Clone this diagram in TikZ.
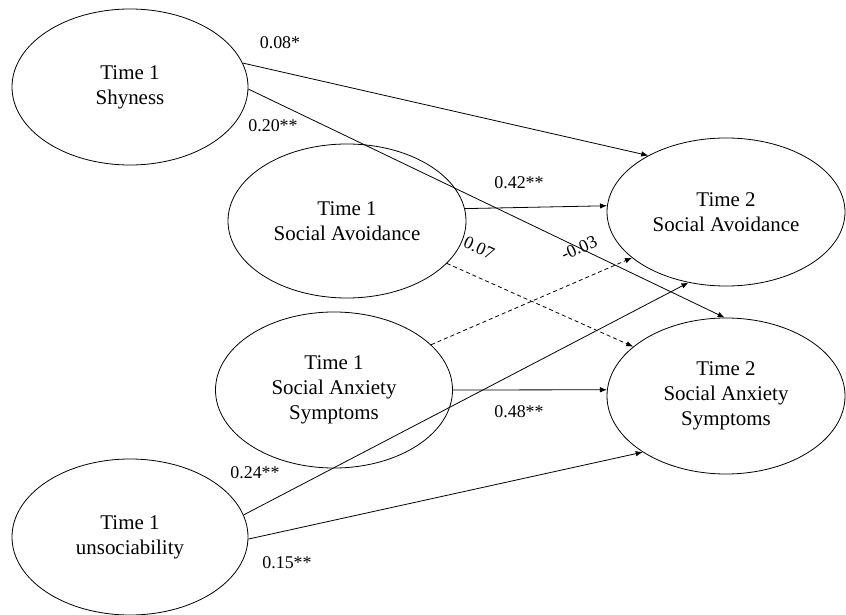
\documentclass[tikz,border=0pt]{standalone}
\usepackage{fontspec}
\setmainfont{Liberation Serif}
\usetikzlibrary{shapes.geometric,arrows.meta}
\begin{document}
\begin{tikzpicture}[x=1bp,y=-1bp,
  latent/.style={ellipse,draw,line width=0.8bp,inner sep=0pt,align=center,
    font=\fontsize{21}{25}\selectfont},
  path/.style={line width=0.8bp,-{Latex[length=7bp,width=5.5bp]}},
  nspath/.style={path,dash pattern=on 4bp off 3bp},
  coef/.style={font=\fontsize{18}{20}\selectfont,inner sep=0pt}]
\useasboundingbox (0,0) rectangle (846,615);
\node[latent,minimum width=236bp,minimum height=156bp] (shy) at (130,87) {Time 1\\Shyness};
\node[latent,minimum width=238bp,minimum height=154bp] (sa1) at (347,221) {Time 1\\Social Avoidance};
\node[latent,minimum width=237bp,minimum height=156bp] (sas1) at (334,390) {Time 1\\Social Anxiety\\Symptoms};
\node[latent,minimum width=236bp,minimum height=156bp] (uns) at (130,537) {Time 1\\unsociability};
\node[latent,minimum width=238bp,minimum height=148bp] (sa2) at (726,212) {Time 2\\Social Avoidance};
\node[latent,minimum width=238bp,minimum height=156bp] (sas2) at (726,396) {Time 2\\Social Anxiety\\Symptoms};

\draw[path] (shy.12.5) -- (sa2.144.9);
\draw[path] (shy.-1) -- (sas2.91);
\draw[path] (sa1.6.4) -- (sa2.177.2);
\draw[nspath] (sa1.-23.3) -- (sas2.152.7);
\draw[nspath] (sas1.25.1) -- (sa2.-154.4);
\draw[path] (sas1.0) -- (sas2.177.1);
\draw[path] (uns.11.8) -- (sa2.-118.1);
\draw[path] (uns.-1) -- (sas2.-146.3);

\node[coef] (c1) at (280,43) {0.08*};
\node[coef] (c2) at (273,126) {0.20**};
\node[coef] (c3) at (519,183) {0.42**};
\node[coef,rotate=-24] (c4) at (479,248) {0.07};
\node[coef,rotate=24] (c5) at (579,248) {-0.03};
\node[coef] (c6) at (519,412) {0.48**};
\node[coef] (c7) at (255,473) {0.24**};
\node[coef] (c8) at (287,563) {0.15**};
\end{tikzpicture}
\end{document}
